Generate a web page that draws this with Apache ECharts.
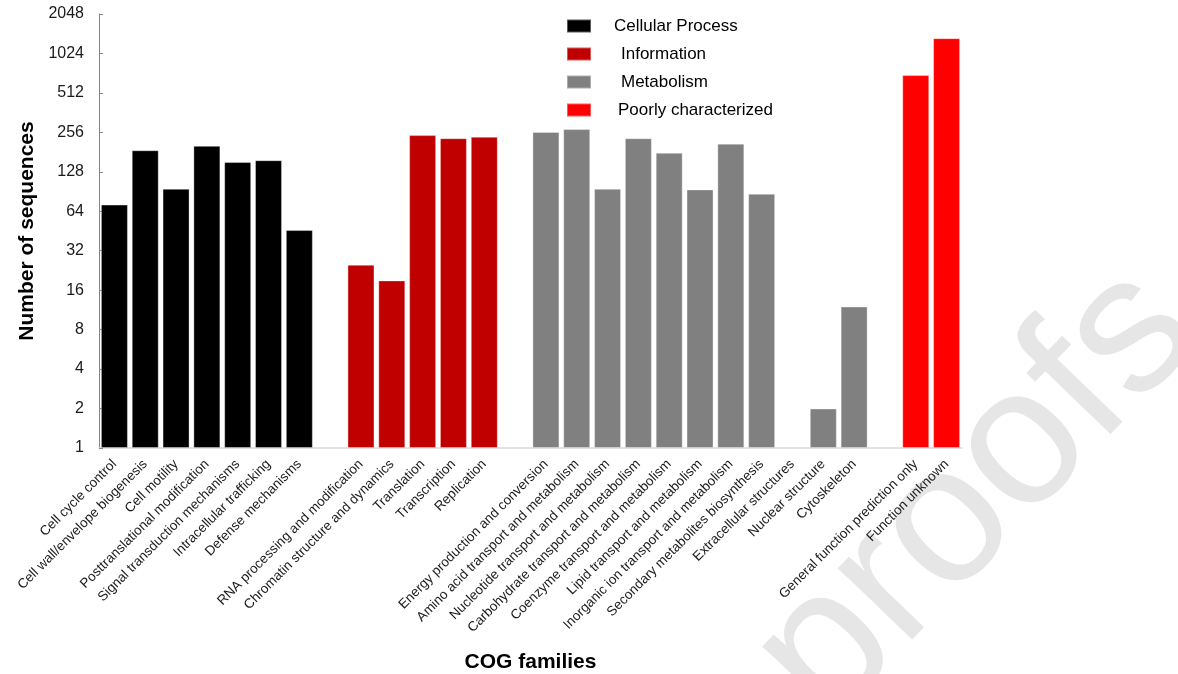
<!DOCTYPE html>
<html>
<head>
<meta charset="utf-8">
<script src="https://cdn.jsdelivr.net/npm/echarts@6/dist/echarts.min.js"></script>
<style>
  html, body { margin: 0; padding: 0; background: #ffffff; }
  #chart { width: 1178px; height: 674px; }
</style>
</head>
<body>
<div id="chart"></div>
<script>
// COG functional classes, sequence counts per family
const cellularCats = ['Cell cycle control', 'Cell wall/envelope biogenesis', 'Cell motility',
  'Posttranslational modification', 'Signal transduction mechanisms', 'Intracellular trafficking',
  'Defense mechanisms'];
const cellularVals = [72, 187, 95, 202, 152, 157, 46];

const infoCats = ['RNA processing and modification', 'Chromatin structure and dynamics',
  'Translation', 'Transcription', 'Replication'];
const infoVals = [25, 19, 244, 231, 237];

const metabCats = ['Energy production and conversion', 'Amino acid transport and metabolism',
  'Nucleotide transport and metabolism', 'Carbohydrate transport and metabolism',
  'Coenzyme transport and metabolism', 'Lipid transport and metabolism',
  'Inorganic ion transport and metabolism', 'Secondary metabolites biosynthesis',
  'Extracellular structures', 'Nuclear structure', 'Cytoskeleton'];
const metabVals = [258, 271, 95, 231, 179, 94, 210, 87, null, 2, 12];

const poorCats = ['General function prediction only', 'Function unknown'];
const poorVals = [700, 1340];

const groupNames = ['Cellular Process', 'Information', 'Metabolism', 'Poorly characterized'];
const groupColors = ['#000000', '#c00000', '#808080', '#ff0000'];

// log2 axis tick values
const yTicks = [1, 2, 4, 8, 16, 32, 64, 128, 256, 512, 1024, 2048];

// Assemble one category axis with an empty slot between groups
const groups = [
  [cellularCats, cellularVals],
  [infoCats, infoVals],
  [metabCats, metabVals],
  [poorCats, poorVals]
];
const categories = [];
const groupIndex = [];
groups.forEach(function (g, gi) {
  if (gi > 0) { categories.push(''); groupIndex.push(-1); }
  g[0].forEach(function (c, i) { categories.push(c); groupIndex.push(gi * 1000 + i); });
});

const series = groups.map(function (g, gi) {
  const data = groupIndex.map(function (k) {
    if (k < 0 || Math.floor(k / 1000) !== gi) return null;
    return g[1][k % 1000];
  });
  return {
    name: groupNames[gi],
    type: 'bar',
    data: data,
    barWidth: 27,
    barGap: '-100%',
    itemStyle: { color: groupColors[gi], borderColor: 'rgba(255,255,255,0.35)', borderWidth: 1 }
  };
});

const font = 'Liberation Sans, Arial, sans-serif';
const legendIndent = [18, 25, 25, 22];
const chart = echarts.init(document.getElementById('chart'), null, { renderer: 'canvas' });

chart.setOption({
  animation: false,
  backgroundColor: '#ffffff',
  graphic: [{
    type: 'text',
    z: -10,
    x: 977,
    y: 495,
    rotation: 46 * Math.PI / 180,
    style: {
      text: 'proofs',
      font: '195px ' + font,
      fill: '#e6e6e6',
      align: 'center',
      verticalAlign: 'middle'
    }
  }],
  legend: {
    orient: 'vertical',
    left: 566,
    top: 16,
    padding: 0,
    itemWidth: 24,
    itemHeight: 13,
    itemGap: 8,
    icon: 'rect',
    data: groupNames.map(function (n, i) {
      return { name: n, textStyle: { padding: [0, 0, 0, legendIndent[i]] } };
    }),
    textStyle: { fontFamily: font, fontSize: 17, color: '#000', lineHeight: 20 }
  },
  grid: { left: 99, right: 216, top: 14, bottom: 226, containLabel: false, outerBoundsMode: 'none' },
  xAxis: {
    type: 'category',
    data: categories,
    name: 'COG families',
    nameLocation: 'middle',
    nameGap: 204,
    nameTextStyle: { fontFamily: font, fontSize: 21, fontWeight: 'bold', color: '#000' },
    axisLine: { lineStyle: { color: '#d9d9d9', width: 1.5 } },
    axisTick: { show: false },
    axisLabel: { interval: 0, rotate: 45, margin: 14, fontFamily: font, fontSize: 13.5, color: '#1a1a1a' }
  },
  yAxis: {
    type: 'log',
    logBase: 2,
    min: 1,
    max: 2048,
    name: 'Number of sequences',
    nameLocation: 'middle',
    nameGap: 54,
    nameTextStyle: { fontFamily: font, fontSize: 21, fontWeight: 'bold', color: '#000' },
    splitLine: { show: false },
    axisLine: { show: true, lineStyle: { color: '#868686', width: 1 } },
    axisTick: { show: true, inside: true, length: 4, lineStyle: { color: '#868686' }, customValues: yTicks },
    axisLabel: {
      margin: 15, fontFamily: font, fontSize: 16, color: '#1a1a1a', customValues: yTicks,
      formatter: function (v) { return String(Math.round(v)); }
    }
  },
  series: series
});
</script>
</body>
</html>
